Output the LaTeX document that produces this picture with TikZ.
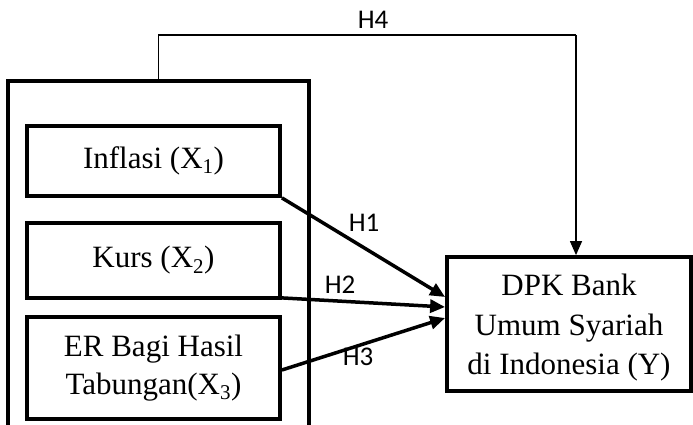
\documentclass[tikz,border=0pt]{standalone}
\usepackage{fontspec}
\setmainfont{Liberation Serif}
\newfontfamily\hfont{Carlito}
\usetikzlibrary{arrows.meta}
\tikzset{
  varbox/.style={draw=black, line width=3.8pt, fill=white, minimum width=253pt, inner sep=0pt, align=center,
    font=\fontsize{31}{38}\selectfont},
  outerbox/.style={draw=black, line width=3.8pt, minimum width=301pt, minimum height=379pt, inner sep=0pt},
  ybox/.style={draw=black, line width=3.8pt, fill=white, minimum width=244pt, minimum height=134pt, inner sep=0pt, align=center,
    font=\fontsize{31}{39.5}\selectfont},
  hyp/.style={line width=3.5pt, -{Triangle[length=15pt,width=13pt]}},
  thinarrow/.style={line width=1.3pt, -{Triangle[length=14pt,width=12pt]}},
  hlabel/.style={font=\hfont\fontsize{27}{27}\selectfont, inner sep=0pt}
}
\newcommand{\sbs}[1]{\textsubscript{\fontsize{21}{21}\selectfont #1}}
\begin{document}
\begin{tikzpicture}[x=1pt,y=-1pt]
\useasboundingbox (0,0) rectangle (693,425);
\fill[white] (0,0) rectangle (693,425);
\clip (0,0) rectangle (693,425);
\node[outerbox] (outer) at (158.5,270.5) {};
\node[varbox, minimum height=70pt] (x1) at (153.5,161) {Inflasi (X\sbs{1})};
\node[varbox, minimum height=75pt] (x2) at (153.5,260.5) {Kurs (X\sbs{2})};
\node[varbox, minimum height=102pt] (x3) at (153.5,368) {ER Bagi Hasil\\Tabungan(X\sbs{3})};
\node[ybox] (y) at (569,324) {\rule{0pt}{29pt}DPK Bank\\Umum Syariah\\di Indonesia (Y)};
\coordinate (c4) at (576,35);
\draw[line width=1.3pt] (outer.north) |- (c4);
\draw[thinarrow] (c4) -- ([xshift=7pt]y.north);
\draw[hyp] (x1.south east) -- ([yshift=27pt]y.west);
\draw[hyp] ([yshift=2pt]x2.south east) -- ([yshift=17pt]y.west);
\draw[hyp] ([yshift=-2pt]x3.east) -- ([yshift=6pt]y.west);
\node[hlabel] (h4) at (373,20) {H4};
\node[hlabel] (h1) at (364,223) {H1};
\node[hlabel] (h2) at (340,285) {H2};
\node[hlabel] (h3) at (358,357) {H3};
\end{tikzpicture}
\end{document}
